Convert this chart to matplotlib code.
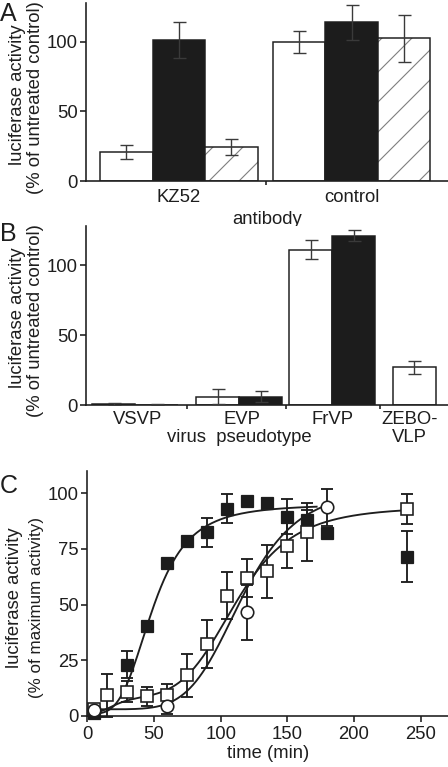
import numpy as np
import matplotlib
matplotlib.use('Agg')
import matplotlib.pyplot as plt
import matplotlib.transforms as mtransforms

plt.rcParams['font.family'] = ['Liberation Sans', 'DejaVu Sans']
plt.rcParams['hatch.linewidth'] = 0.45
plt.rcParams['hatch.color'] = '#808080'

# ---------------- data ----------------
# Panel A
a_groups = ['KZ52', 'control']
a_white = [21, 100]
a_white_err = [5, 8]
a_black = [101, 114]
a_black_err = [13, 12.5]
a_hatch = [24.5, 102.5]
a_hatch_err = [5.5, 17]

# Panel B
b_groups = ['VSVP', 'EVP', 'FrVP', 'ZEBO-\nVLP']
b_white = [0.5, 6, 111, 27]
b_white_err = [0.8, 5.5, 7, 4.5]
b_black_groups = ['VSVP', 'EVP', 'FrVP']
b_black = [0.3, 6, 121]
b_black_err = [0.6, 4, 4]

# Panel C
t_black = [5, 30, 45, 60, 75, 90, 105, 120, 135, 150, 165, 180, 240]
y_black = [1.5, 23, 40.5, 68.5, 78.7, 82.5, 93, 96.5, 95.5, 89.5, 88, 82, 71.5]
e_black = [0, 6, 0, 0, 0, 6.5, 6.5, 0, 2.5, 8, 4.5, 0, 11.5]
t_open = [5, 15, 30, 45, 60, 75, 90, 105, 120, 135, 150, 165, 240]
y_open = [3, 9.3, 11, 8.8, 9.3, 18.3, 32.3, 54, 62, 65, 76.5, 82.5, 93]
e_open = [0, 9.6, 4.7, 4.2, 5, 9.6, 10.8, 10.6, 8.7, 12, 10, 13, 6.6]
t_circ = [5, 60, 120, 180]
y_circ = [2.5, 4.5, 46.5, 93.7]
e_circ = [0, 3.8, 12.3, 8.3]

# fitted sigmoid (Hill) parameters
fit_black = dict(base=1.0, top=95.0, k=49.0, n=3.6, t0=5, t1=172)
fit_circ = dict(base=3.0, top=103.0, k=116.0, n=5.5, t0=2, t1=180)
fit_open_lag = dict(base=1.5, top=9.0, k=22.0, n=3.0)
fit_open = dict(top=94.0, k=112.0, n=5.2, t0=5, t1=240)

# ---------------- figure ----------------
W, H, DPI = 448, 767, 180
fig = plt.figure(figsize=(W / DPI, H / DPI), dpi=DPI)
INK = '#1e1e1e'
FS = 7.4


def px_ax(left, top, right, bottom):
    return fig.add_axes([left / W, 1 - bottom / H, (right - left) / W, (bottom - top) / H])


def style(ax):
    for s in ('top', 'right'):
        ax.spines[s].set_visible(False)
    for s in ('left', 'bottom'):
        ax.spines[s].set_linewidth(0.65)
        ax.spines[s].set_color(INK)
    ax.tick_params(axis='y', direction='out', length=2.4, width=0.65, pad=1.0,
                   labelsize=FS, colors=INK)


ekw = dict(fmt='none', ecolor='#3a3a3a', elinewidth=0.55, capsize=2.6, capthick=0.55, zorder=4)

# ---------- Panel A ----------
axA = px_ax(86, 181 - 128 * 1.393, 448, 181)
style(axA)
bw = 1.0
a_centers = np.array([1.77, 5.06])
axA.bar(a_centers - 1, a_white, bw, color='white', edgecolor=INK, linewidth=0.6, zorder=2)
axA.bar(a_centers, a_black, bw, color='#1c1c1c', edgecolor=INK, linewidth=0.6, zorder=2)
axA.bar(a_centers + 1, a_hatch, bw, color='white', edgecolor='#808080', linewidth=0,
        hatch='//', zorder=2)
axA.bar(a_centers + 1, a_hatch, bw, color='none', edgecolor=INK, linewidth=0.6, zorder=3)
axA.errorbar(a_centers - 1, a_white, yerr=a_white_err, **ekw)
axA.errorbar(a_centers, a_black, yerr=a_black_err, **ekw)
axA.errorbar(a_centers + 1, a_hatch, yerr=a_hatch_err, **ekw)
axA.set_xlim(0, 362 / 52.5)
axA.set_ylim(0, 128)
axA.set_yticks([0, 50, 100])
axA.set_xticks(a_centers, a_groups)
axA.set_xticks([3.43], minor=True)
axA.tick_params(axis='x', which='major', length=0, pad=3.2, labelsize=FS, colors=INK)
axA.tick_params(axis='x', which='minor', length=1.6, width=0.65, colors=INK)
axA.set_xlabel('antibody', fontsize=FS, color=INK, labelpad=2.0)

# ---------- Panel B ----------
axB = px_ax(86, 405 - 128 * 1.4, 448, 405)
style(axB)
b_centers = np.array([1.15, 3.56, 5.73, 7.63])
b_white_off = np.array([-0.5, -0.5, -0.5, 0.0])
b_label_pos = [1.21, 3.63, 5.74, 7.53]
xw = b_centers + b_white_off
xb = b_centers[:3] + 0.5
axB.bar(xw, b_white, bw, color='white', edgecolor=INK, linewidth=0.6, zorder=2)
axB.bar(xb, b_black, bw, color='#1c1c1c', edgecolor=INK, linewidth=0.6, zorder=2)
axB.errorbar(xw, b_white, yerr=b_white_err, **ekw)
axB.errorbar(xb, b_black, yerr=b_black_err, **ekw)
axB.set_xlim(0, 362 / 43)
axB.set_ylim(0, 128)
axB.set_yticks([0, 50, 100])
axB.set_xticks(b_label_pos, b_groups)
for lbl in axB.get_xticklabels():
    lbl.set_linespacing(1.0)
    lbl.set_verticalalignment('top')
axB.set_xticks([2.35, 4.65, 6.84], minor=True)
axB.tick_params(axis='x', which='major', length=0, pad=2.6, labelsize=FS, colors=INK)
axB.tick_params(axis='x', which='minor', length=1.6, width=0.65, colors=INK)
axB.text(3.56, (767 - 438) / H, 'virus  pseudotype',
         transform=mtransforms.blended_transform_factory(axB.transData, fig.transFigure),
         ha='center', va='center', fontsize=FS, color=INK)

# ---------- Panel C ----------
axC = px_ax(87.3, 716 - 110 * 2.227, 448, 716)
style(axC)
axC.set_xlim(0, (448 - 87.3) / 1.3333)
axC.set_ylim(0, 110)
axC.set_xticks([0, 50, 100, 150, 200, 250])
axC.set_yticks([0, 25, 50, 75, 100])
axC.tick_params(axis='x', direction='out', length=2.2, width=0.65, pad=1.8,
                labelsize=FS, colors=INK)
axC.set_xlabel('time (min)', fontsize=FS, color=INK, labelpad=1.0)


def hill(t, base, top, k, n):
    t = np.asarray(t, float)
    return base + (top - base) * t ** n / (k ** n + t ** n)


tb = np.linspace(fit_black['t0'], fit_black['t1'], 300)
axC.plot(tb, hill(tb, fit_black['base'], fit_black['top'], fit_black['k'], fit_black['n']),
         color=INK, lw=0.75, zorder=2)
tc = np.linspace(fit_circ['t0'], fit_circ['t1'], 300)
axC.plot(tc, hill(tc, fit_circ['base'], fit_circ['top'], fit_circ['k'], fit_circ['n']),
         color=INK, lw=0.75, zorder=2)
to = np.linspace(fit_open['t0'], fit_open['t1'], 400)
lag = hill(to, fit_open_lag['base'], fit_open_lag['top'], fit_open_lag['k'], fit_open_lag['n'])
yo = lag + (fit_open['top'] - lag) * hill(to, 0, 1, fit_open['k'], fit_open['n'])
axC.plot(to, yo, color=INK, lw=0.75, zorder=2)

ekwC = dict(fmt='none', ecolor=INK, elinewidth=0.75, capsize=2.5, capthick=0.75, zorder=3,
            clip_on=False)
axC.errorbar(t_black, y_black, yerr=e_black, **ekwC)
axC.errorbar(t_open, y_open, yerr=e_open, **ekwC)
axC.errorbar(t_circ, y_circ, yerr=e_circ, **ekwC)
axC.plot(t_black, y_black, 's', ms=4.7, mfc='#1c1c1c', mec=INK, mew=0.5, ls='none',
         zorder=5, clip_on=False)
axC.plot(t_open, y_open, 's', ms=4.6, mfc='white', mec=INK, mew=0.65, ls='none',
         zorder=6, clip_on=False)
axC.plot(t_circ, y_circ, 'o', ms=5.0, mfc='white', mec=INK, mew=0.65, ls='none',
         zorder=7, clip_on=False)

# ---------- y labels and panel letters ----------
def ylab(x_px, y_px, s, size):
    fig.text(x_px / W, 1 - y_px / H, s, rotation=90, ha='center', va='center',
             fontsize=size, color=INK)


ylab(18, 95, 'luciferase activity', FS)
ylab(36, 98, '(% of untreated control)', FS)
ylab(18, 318, 'luciferase activity', FS)
ylab(36, 321, '(% of untreated control)', FS)
ylab(15, 598, 'luciferase activity', FS)
ylab(37, 608, '(% of maximum activity)', 6.8)

for letter, ytop in (('A', 2), ('B', 222), ('C', 474)):
    fig.text(0.0, 1 - ytop / H, letter, ha='left', va='top', fontsize=10, color=INK)

fig.savefig('out.png', dpi=DPI)
